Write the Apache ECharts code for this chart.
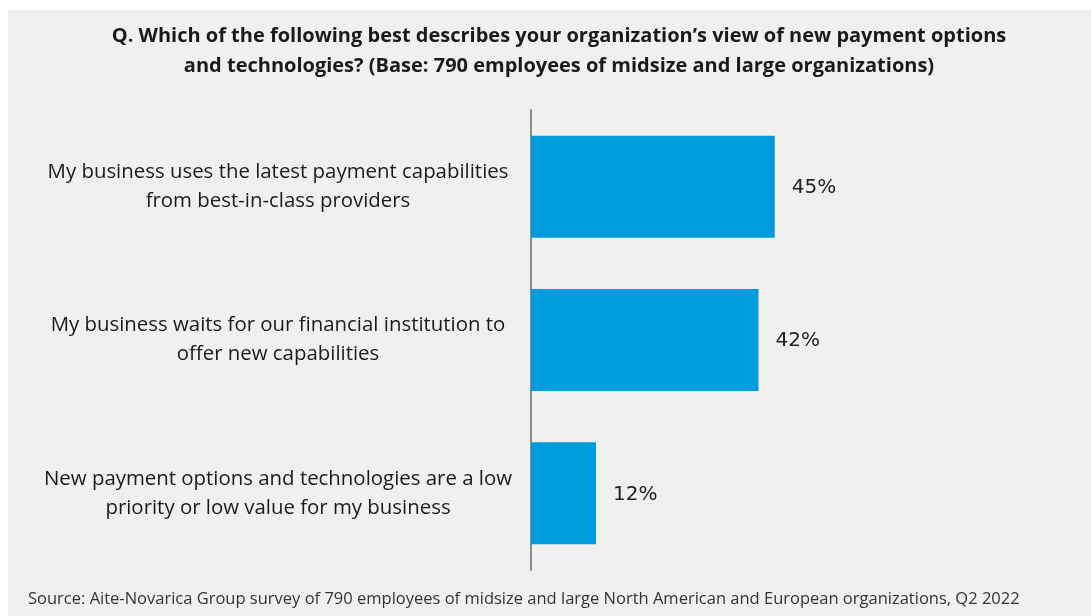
<!DOCTYPE html>
<html>
<head>
<meta charset="utf-8">
<script src="https://cdn.jsdelivr.net/npm/echarts@6/dist/echarts.min.js"></script>
<style>
  html, body { margin: 0; padding: 0; background: #ffffff; }
  #chart { width: 1091px; height: 616px; }
</style>
</head>
<body>
<div id="chart"></div>
<script>
// Survey answers, top to bottom
var categories = [
  'My business uses the latest payment capabilities\nfrom best-in-class providers',
  'My business waits for our financial institution to\noffer new capabilities',
  'New payment options and technologies are a low\npriority or low value for my business'
];
// Share of respondents, percent
var values = [45, 42, 12];

var titleText = 'Q. Which of the following best describes your organization\u2019s view of new payment options\nand technologies? (Base: 790 employees of midsize and large organizations)';
var sourceText = 'Source: Aite-Novarica Group survey of 790 employees of midsize and large North American and European organizations, Q2 2022';

var chart = echarts.init(document.getElementById('chart'), null, { renderer: 'canvas' });

chart.setOption({
  animation: false,
  backgroundColor: '#ffffff',
  graphic: [
    {
      type: 'rect',
      z: -10,
      shape: { x: 8, y: 10, width: 1091, height: 616 },
      style: { fill: '#f0f0ef' }
    }
  ],
  title: [
    {
      text: titleText,
      left: 554,
      top: 16,
      textAlign: 'center',
      textStyle: {
        fontFamily: 'Open Sans',
        fontWeight: 'bold',
        fontSize: 20,
        lineHeight: 30,
        color: '#1a1a1a'
      }
    },
    {
      text: sourceText,
      left: 23,
      top: 586,
      textStyle: {
        fontFamily: 'Open Sans',
        fontWeight: 'normal',
        fontSize: 16.5,
        color: '#333333'
      }
    }
  ],
  grid: {
    left: 531,
    top: 110,
    width: 325,
    height: 460,
    containLabel: false
  },
  xAxis: {
    type: 'value',
    min: 0,
    max: 60,
    show: false
  },
  yAxis: {
    type: 'category',
    inverse: true,
    data: categories,
    axisLine: { show: true, lineStyle: { color: '#8c8c8c', width: 2 } },
    axisTick: { show: false },
    splitLine: { show: false },
    axisLabel: {
      align: 'center',
      margin: 253,
      fontFamily: 'Open Sans',
      fontSize: 20.4,
      lineHeight: 29,
      color: '#1a1a1a'
    }
  },
  series: [
    {
      type: 'bar',
      data: values,
      barCategoryGap: '33.5%',
      itemStyle: { color: '#009cde' },
      label: {
        show: true,
        position: 'right',
        distance: 17,
        offset: [0, 1],
        formatter: '{c}%',
        fontFamily: 'DejaVu Sans',
        fontSize: 20,
        color: '#222222'
      }
    }
  ]
});
</script>
</body>
</html>
